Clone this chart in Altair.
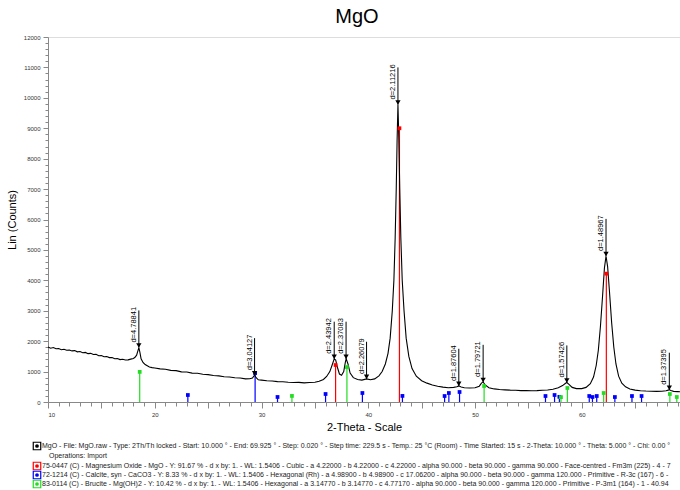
import altair as alt
import pandas as pd

FONT = "Liberation Sans"

two_theta = [10.0, 10.25, 10.5, 10.75, 11.0, 11.25, 11.5, 11.75, 12.0, 12.25, 12.5, 12.75, 13.0, 13.25, 13.5,
             13.75, 14.0, 14.25, 14.5, 14.75, 15.0, 15.25, 15.5, 15.75, 16.0, 16.25, 16.5, 16.75, 17.0, 17.25,
             17.5, 17.75, 18.0, 18.15, 18.3, 18.42, 18.51, 18.6, 18.72, 18.9, 19.1, 19.3, 19.5, 19.75, 20.0,
             20.5, 21.0, 21.5, 22.0, 22.5, 23.0, 23.5, 24.0, 24.5, 25.0, 25.5, 26.0, 26.5, 27.0, 27.5, 28.0,
             28.5, 28.9, 29.15, 29.28, 29.36, 29.5, 29.7, 30.0, 30.5, 31.0, 31.5, 32.0, 32.5, 33.0, 33.5, 34.0,
             34.5, 35.0, 35.4, 35.8, 36.1, 36.4, 36.6, 36.81, 36.95, 37.1, 37.3, 37.5, 37.7, 37.85, 37.93, 38.1,
             38.3, 38.6, 39.0, 39.4, 39.84, 40.2, 40.6, 41.0, 41.3, 41.6, 41.85, 42.05, 42.25, 42.4, 42.52,
             42.62, 42.7, 42.78, 42.86, 42.95, 43.05, 43.18, 43.35, 43.55, 43.8, 44.1, 44.5, 45.0, 45.5, 46.0,
             46.5, 47.0, 47.5, 48.0, 48.3, 48.48, 48.7, 49.0, 49.5, 50.0, 50.4, 50.6, 50.76, 50.95, 51.3, 51.8,
             52.3, 52.8, 53.3, 53.8, 54.3, 54.8, 55.3, 55.8, 56.3, 56.8, 57.3, 57.8, 58.2, 58.45, 58.6, 58.8,
             59.1, 59.5, 60.0, 60.4, 60.8, 61.1, 61.35, 61.55, 61.75, 61.95, 62.12, 62.27, 62.42, 62.6, 62.8,
             63.0, 63.2, 63.45, 63.75, 64.1, 64.5, 65.0, 65.5, 66.0, 66.5, 67.0, 67.5, 67.9, 68.1, 68.2, 68.35,
             68.6, 69.0, 69.2]
counts = [1810, 1770, 1790, 1750, 1760, 1720, 1735, 1700, 1710, 1680, 1690, 1650, 1660, 1620, 1630,
          1590, 1600, 1560, 1570, 1520, 1530, 1490, 1495, 1460, 1465, 1420, 1430, 1395, 1405, 1380,
          1385, 1410, 1430, 1470, 1540, 1680, 1790, 1650, 1420, 1300, 1230, 1190, 1150, 1130, 1120,
          1090, 1075, 1040, 1030, 990, 985, 950, 945, 910, 900, 870, 860, 830, 820, 795, 790,
          760, 765, 790, 850, 880, 800, 730, 720, 700, 690, 670, 665, 650, 640, 645, 630,
          640, 650, 680, 740, 840, 1000, 1200, 1420, 1380, 1150, 920, 880, 1000, 1300, 1420, 1250,
          950, 800, 740, 720, 760, 730, 760, 860, 1000, 1250, 1600, 2100, 3000, 4000, 5400,
          7000, 8600, 9780, 8700, 7000, 5400, 4000, 3000, 2100, 1500, 1100, 850, 700, 620, 560,
          520, 490, 470, 480, 500, 530, 490, 470, 460, 470, 520, 620, 660, 560, 470, 430,
          410, 400, 390, 385, 375, 380, 370, 375, 385, 395, 420, 470, 540, 610, 640, 580,
          480, 440, 440, 480, 600, 820, 1200, 1700, 2500, 3500, 4400, 4800, 4450, 3600, 2600,
          1800, 1250, 850, 620, 500, 430, 390, 370, 360, 355, 350, 355, 370, 390, 400, 375,
          350, 340, 335]

# ---- reference patterns (stick positions / heights) ----
mgo_pos = [36.94, 42.92, 62.30]
mgo_int = [1216, 9000, 4220]
calcite_pos = [23.1, 29.4, 31.5, 36.0, 39.45, 43.2, 47.15, 47.55, 48.55, 56.6, 57.45, 57.9,
               60.7, 61.0, 61.4, 63.1, 64.7, 65.6]
calcite_int = [230, 950, 165, 263, 296, 200, 197, 296, 329, 197, 230, 170,
               197, 164, 197, 164, 197, 197]
brucite_pos = [18.59, 32.85, 38.0, 50.85, 58.05, 58.65, 62.05, 68.25, 68.9]
brucite_int = [990, 200, 1150, 526, 160, 460, 296, 263, 165]

# ---- peak labels ----
peak_labels = ["d=4.78841", "d=3.04127", "d=2.43942", "d=2.37083", "d=2.26079", "d=2.11216",
               "d=1.87604", "d=1.79721", "d=1.57426", "d=1.48967", "d=1.37395"]
peak_pos = [18.51, 29.35, 36.81, 37.92, 39.84, 42.78, 48.48, 50.76, 58.60, 62.27, 68.20]
peak_counts = [1790, 880, 1420, 1420, 760, 9780, 530, 660, 640, 4800, 400]

legend_lines = [
    "MgO - File: MgO.raw - Type: 2Th/Th locked - Start: 10.000 ° - End: 69.925 ° - Step: 0.020 ° - Step time: 229.5 s - Temp.: 25 °C (Room) - Time Started: 15 s - 2-Theta: 10.000 ° - Theta: 5.000 ° - Chi: 0.00 °",
    "Operations: Import",
    "75-0447 (C) - Magnesium Oxide - MgO - Y: 91.67 % - d x by: 1. - WL: 1.5406 - Cubic - a 4.22000 - b 4.22000 - c 4.22000 - alpha 90.000 - beta 90.000 - gamma 90.000 - Face-centred - Fm3m (225) - 4 - 7",
    "72-1214 (C) - Calcite, syn - CaCO3 - Y: 8.33 % - d x by: 1. - WL: 1.5406 - Hexagonal (Rh) - a 4.98900 - b 4.98900 - c 17.06200 - alpha 90.000 - beta 90.000 - gamma 120.000 - Primitive - R-3c (167) - 6 -",
    "83-0114 (C) - Brucite - Mg(OH)2 - Y: 10.42 % - d x by: 1. - WL: 1.5406 - Hexagonal - a 3.14770 - b 3.14770 - c 4.77170 - alpha 90.000 - beta 90.000 - gamma 120.000 - Primitive - P-3m1 (164) - 1 - 40.94",
]
legend_colors = ["black", None, "#ff0000", "#0000ff", "#22dd22"]

# ---- frames ----
curve_df = pd.DataFrame({"x": two_theta, "y": counts})
phases = ["MgO"] * len(mgo_pos) + ["Calcite"] * len(calcite_pos) + ["Brucite"] * len(brucite_pos)
stick_df = pd.DataFrame({"x": mgo_pos + calcite_pos + brucite_pos,
                         "y": mgo_int + calcite_int + brucite_int,
                         "phase": phases})
peak_df = pd.DataFrame({"x": peak_pos, "y": peak_counts, "label": peak_labels})
peak_df["top"] = peak_df["y"] + 1220

xs = alt.Scale(domain=[10, 69.2], nice=False, zero=False)
ys = alt.Scale(domain=[0, 12000], nice=False)
col = alt.Scale(domain=["MgO", "Calcite", "Brucite"], range=["#ff0000", "#0000ff", "#22dd22"])

x_axis = alt.Axis(values=list(range(10, 70)), grid=False,
                  labelExpr="datum.value % 10 === 0 ? datum.label : ''",
                  tickSize={"condition": {"test": "datum.value % 5 === 0", "value": 6}, "value": 4},
                  labelFontSize=6, labelColor="#333333", labelPadding=3,
                  titleFontSize=11, titleFontWeight="normal", titlePadding=4, titleColor="black")
y_axis = alt.Axis(values=list(range(0, 12001, 200)), grid=False,
                  labelExpr="datum.value % 1000 === 0 ? datum.label : ''",
                  format="d",
                  tickSize={"condition": {"test": "datum.value % 1000 === 0", "value": 5}, "value": 3},
                  labelFontSize=6, labelColor="#333333", labelPadding=3,
                  titleFontSize=11, titleFontWeight="normal", titlePadding=6, titleColor="black")

X = lambda f: alt.X(f, scale=xs, axis=x_axis, title="2-Theta - Scale")
Y = lambda f: alt.Y(f, scale=ys, axis=y_axis, title="Lin (Counts)")

line = alt.Chart(curve_df).mark_line(color="black", strokeWidth=1.1).encode(
    x=X("x:Q"), y=Y("y:Q"))

sticks = alt.Chart(stick_df).mark_rule(strokeWidth=1.2).encode(
    x=X("x:Q"), y=Y("y:Q"), y2=alt.datum(0),
    color=alt.Color("phase:N", scale=col, legend=None),
)
stick_heads = alt.Chart(stick_df).mark_square(size=14, opacity=1).encode(
    x=X("x:Q"), y=Y("y:Q"),
    color=alt.Color("phase:N", scale=col, legend=None),
)

peak_rules = alt.Chart(peak_df).mark_rule(color="black", strokeWidth=1).encode(
    x=X("x:Q"), y=Y("y:Q"), y2="top:Q")
peak_marks = alt.Chart(peak_df).mark_point(shape="triangle-down", filled=True, color="black",
                                           size=28, opacity=1, yOffset=-2).encode(
    x=X("x:Q"), y=Y("y:Q"))
peak_text = alt.Chart(peak_df).mark_text(angle=270, align="left", baseline="bottom", dx=5, dy=-1,
                                         fontSize=7.5, font=FONT, color="black").encode(
    x=X("x:Q"), y=Y("y:Q"), text="label:N")

layers = [sticks, line, stick_heads, peak_rules, peak_marks, peak_text]

# legend block under the plot (pixel positions relative to the plot origin)
row_y = [409, 419, 429, 438, 447]
for i, (txt, c) in enumerate(zip(legend_lines, legend_colors)):
    tx = 1 if i == 1 else -6
    layers.append(alt.Chart(pd.DataFrame({"t": [txt]})).mark_text(
        align="left", baseline="middle", fontSize=7, font=FONT, color="#222222").encode(
        x=alt.value(tx), y=alt.value(row_y[i]), text="t:N"))
    if c is not None:
        layers.append(alt.Chart(pd.DataFrame({"t": [txt]})).mark_square(
            filled=False, size=56, stroke=c, strokeWidth=1.2, opacity=1).encode(
            x=alt.value(-11), y=alt.value(row_y[i])))
        layers.append(alt.Chart(pd.DataFrame({"t": [txt]})).mark_circle(
            size=14, color=c, opacity=1).encode(
            x=alt.value(-11), y=alt.value(row_y[i])))

chart = alt.layer(*layers).properties(
    width=632, height=365,
    title=alt.TitleParams("MgO", fontSize=20, font=FONT, fontWeight="normal", anchor="middle",
                          offset=7, dx=-7, color="black"),
    autosize=alt.AutoSizeParams(type="none"),
    padding={"left": 48, "top": 37, "right": 0, "bottom": 88},
).configure_view(stroke=None).configure_axis(
    grid=False, domainColor="black", tickColor="black", labelFont=FONT, titleFont=FONT
).configure(background="white")

chart.save("out.html", embed_options={"renderer": "svg", "actions": False})
